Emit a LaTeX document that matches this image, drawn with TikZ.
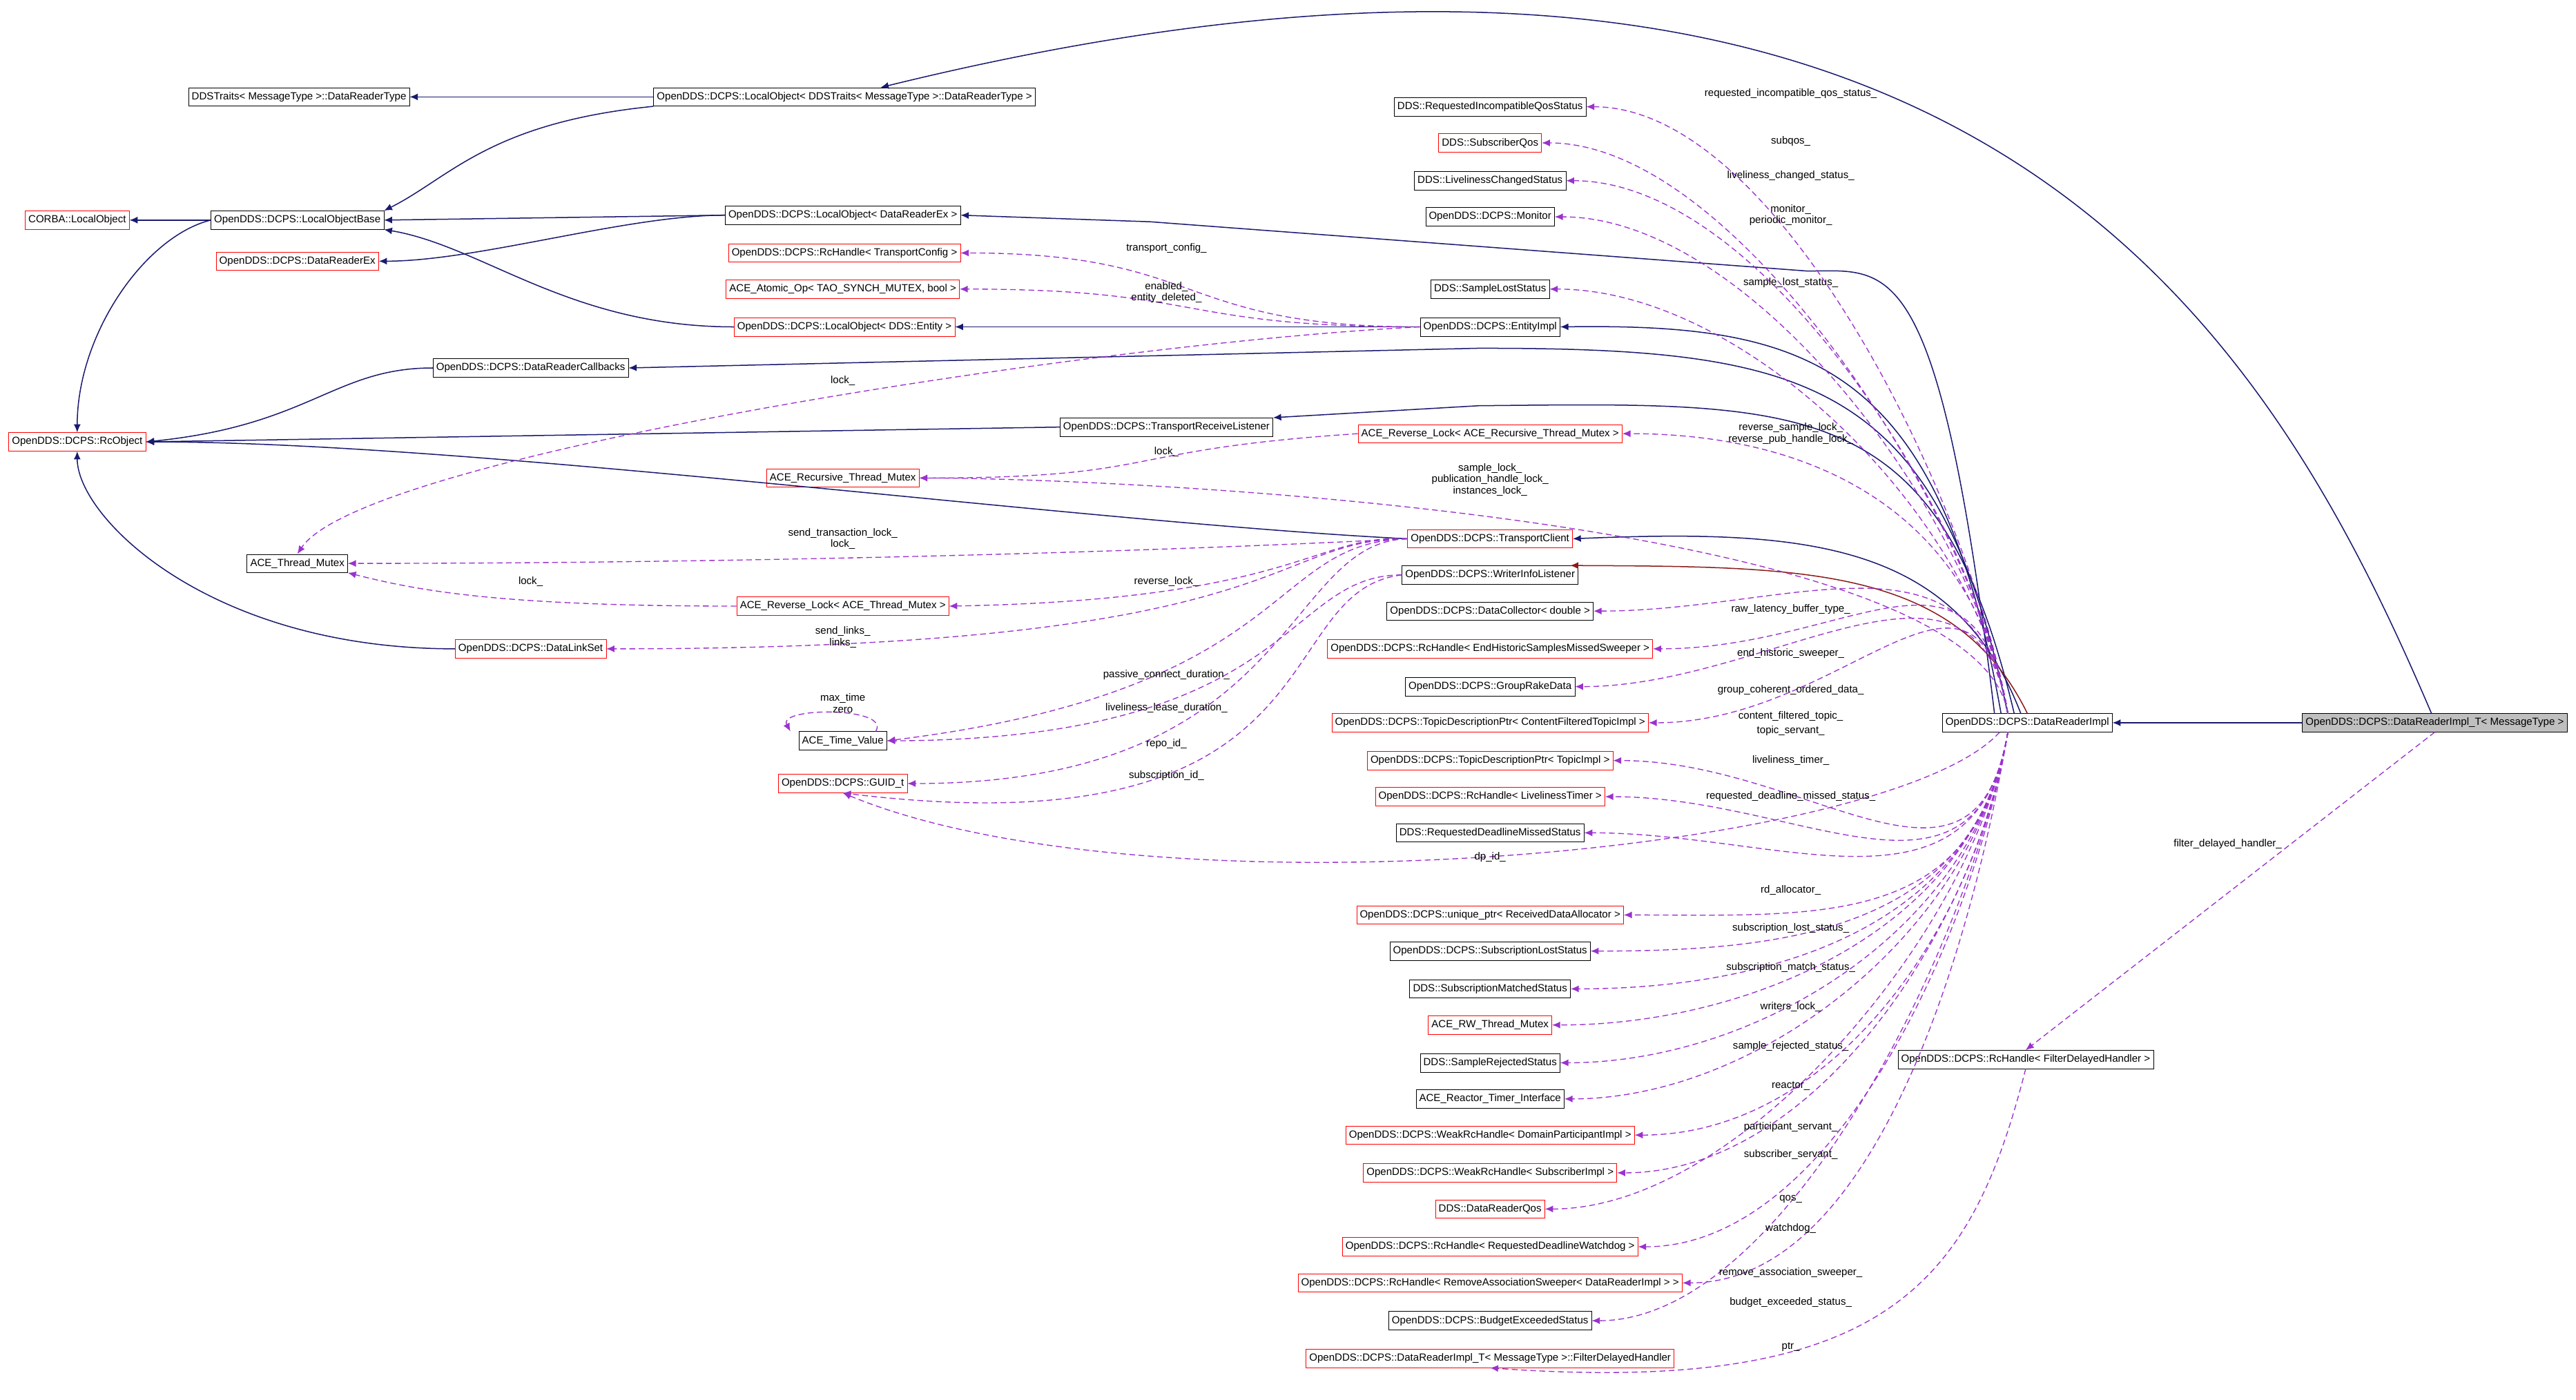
\documentclass[tikz,border=0pt]{standalone}
\usepackage{fontspec}
\setmainfont{Liberation Sans}
\usetikzlibrary{arrows.meta,calc}
\definecolor{navyc}{HTML}{191970}
\definecolor{depc}{HTML}{9A32CD}
\definecolor{privc}{HTML}{8B1A1A}
\tikzset{
 cls/.style={draw=black,fill=white,font=\fontsize{9}{9.5}\selectfont,inner sep=2.8pt,minimum height=0.56cm},
 rcls/.style={cls,draw=red},
 gcls/.style={cls,fill=black!25},
 inh/.style={draw=navyc,line width=0.9pt,-{Latex[length=7pt,width=6pt]}},
 priv/.style={inh,draw=privc},
 dep/.style={draw=depc,line width=0.8pt,dash pattern=on 5pt off 3pt,-{Latex[length=7pt,width=6pt]}},
 lab/.style={font=\fontsize{9}{10}\selectfont,align=center,inner sep=0pt}
}
\begin{document}
\begin{tikzpicture}[x=0.05cm,y=-0.05cm]
\useasboundingbox (0,0) rectangle (1568,852);
% nodes
\node[gcls] (drt) at (1482,440) {OpenDDS::DCPS::DataReaderImpl\_T< MessageType >};
\node[cls] (dri) at (1234,440) {OpenDDS::DCPS::DataReaderImpl};
\node[cls] (fdh) at (1233,645) {OpenDDS::DCPS::RcHandle< FilterDelayedHandler >};
\node[cls] (lotr) at (514,59) {OpenDDS::DCPS::LocalObject< DDSTraits< MessageType >::DataReaderType >};
\node[cls] (tr) at (182,59) {DDSTraits< MessageType >::DataReaderType};
\node[cls] (lob) at (181,134) {OpenDDS::DCPS::LocalObjectBase};
\node[rcls] (clo) at (47,134) {CORBA::LocalObject};
\node[rcls] (dre) at (181,159) {OpenDDS::DCPS::DataReaderEx};
\node[rcls] (rco) at (47,269) {OpenDDS::DCPS::RcObject};
\node[cls] (lodre) at (513,131) {OpenDDS::DCPS::LocalObject< DataReaderEx >};
\node[rcls] (rtc) at (514,154) {OpenDDS::DCPS::RcHandle< TransportConfig >};
\node[rcls] (aao) at (513,176) {ACE\_Atomic\_Op< TAO\_SYNCH\_MUTEX, bool >};
\node[rcls] (loent) at (514,199) {OpenDDS::DCPS::LocalObject< DDS::Entity >};
\node[cls] (drc) at (323,224) {OpenDDS::DCPS::DataReaderCallbacks};
\node[cls] (ent) at (907,199) {OpenDDS::DCPS::EntityImpl};
\node[cls] (trl) at (710,260) {OpenDDS::DCPS::TransportReceiveListener};
\node[rcls] (arlr) at (907,264) {ACE\_Reverse\_Lock< ACE\_Recursive\_Thread\_Mutex >};
\node[rcls] (artm) at (513,291) {ACE\_Recursive\_Thread\_Mutex};
\node[cls] (atm) at (181,343) {ACE\_Thread\_Mutex};
\node[rcls] (tc) at (907,328) {OpenDDS::DCPS::TransportClient};
\node[cls] (wil) at (907,350) {OpenDDS::DCPS::WriterInfoListener};
\node[rcls] (arlt) at (513,369) {ACE\_Reverse\_Lock< ACE\_Thread\_Mutex >};
\node[rcls] (dls) at (323,395) {OpenDDS::DCPS::DataLinkSet};
\node[cls] (tv) at (513,451) {ACE\_Time\_Value};
\node[rcls] (guid) at (513,477) {OpenDDS::DCPS::GUID\_t};
\node[cls] (riq) at (907,65) {DDS::RequestedIncompatibleQosStatus};
\node[rcls] (sq) at (907,87) {DDS::SubscriberQos};
\node[cls] (lcs) at (907,110) {DDS::LivelinessChangedStatus};
\node[cls] (mon) at (907,132) {OpenDDS::DCPS::Monitor};
\node[cls] (sls) at (907,176) {DDS::SampleLostStatus};
\node[cls] (dc) at (907,372) {OpenDDS::DCPS::DataCollector< double >};
\node[rcls] (ehs) at (907,395) {OpenDDS::DCPS::RcHandle< EndHistoricSamplesMissedSweeper >};
\node[cls] (grd) at (907,418) {OpenDDS::DCPS::GroupRakeData};
\node[rcls] (tdc) at (907,440) {OpenDDS::DCPS::TopicDescriptionPtr< ContentFilteredTopicImpl >};
\node[rcls] (tdt) at (907,463) {OpenDDS::DCPS::TopicDescriptionPtr< TopicImpl >};
\node[rcls] (lt) at (907,485) {OpenDDS::DCPS::RcHandle< LivelinessTimer >};
\node[cls] (rdm) at (907,507) {DDS::RequestedDeadlineMissedStatus};
\node[rcls] (up) at (907,557) {OpenDDS::DCPS::unique\_ptr< ReceivedDataAllocator >};
\node[cls] (sul) at (907,579) {OpenDDS::DCPS::SubscriptionLostStatus};
\node[cls] (sms) at (907,602) {DDS::SubscriptionMatchedStatus};
\node[rcls] (rw) at (907,624) {ACE\_RW\_Thread\_Mutex};
\node[cls] (srs) at (907,647) {DDS::SampleRejectedStatus};
\node[cls] (rti) at (907,669) {ACE\_Reactor\_Timer\_Interface};
\node[rcls] (wdp) at (907,691) {OpenDDS::DCPS::WeakRcHandle< DomainParticipantImpl >};
\node[rcls] (wsi) at (907,714) {OpenDDS::DCPS::WeakRcHandle< SubscriberImpl >};
\node[rcls] (qos) at (907,736) {DDS::DataReaderQos};
\node[rcls] (wd) at (907,759) {OpenDDS::DCPS::RcHandle< RequestedDeadlineWatchdog >};
\node[rcls] (ras) at (907,781) {OpenDDS::DCPS::RcHandle< RemoveAssociationSweeper< DataReaderImpl > >};
\node[cls] (bes) at (907,804) {OpenDDS::DCPS::BudgetExceededStatus};
\node[rcls] (fd) at (907,827) {OpenDDS::DCPS::DataReaderImpl\_T< MessageType >::FilterDelayedHandler};
% inheritance
\draw[inh] (drt) -- (dri);
\draw[inh] ($(drt.north)+(-2,0)$) .. controls (1380,200) and (1200,-110) .. ($(lotr.north)+(22,0)$);
\draw[inh] (lotr) -- (tr);
\draw[inh] (lotr.south west) .. controls +(-100,10) and +(40,-20) .. (lob.north east);
\draw[inh] (lob) -- (clo);
\draw[inh] (lob.west) .. controls +(-40,10) and +(0,-60) .. (rco.north);
\draw[inh] (lodre.west) -- (lob.east);
\draw[inh] (lodre.west) .. controls +(-60,0) and +(60,0) .. (dre.east);
\draw[inh] (loent.west) .. controls +(-100,0) and +(60,10) .. (lob.south east);
\draw[inh] ($(dri.north)+(-20,0)$) .. controls (1180,150) and (1150,165) .. (1100,165) -- (700,135) -- (lodre.east);
\draw[inh] (ent) -- (loent);
\draw[inh] ($(dri.north)+(-16,0)$) .. controls (1180,220) and (1100,197) .. (ent.east);
\draw[inh] ($(dri.north)+(-12,0)$) .. controls (1180,230) and (1100,212) .. (900,212) -- (drc.east);
\draw[inh] (drc.west) .. controls +(-60,0) and +(100,-10) .. (rco.east);
\draw[inh] ($(dri.north)+(-8,0)$) .. controls (1180,240) and (1100,245) .. (900,247) -- (trl.north east);
\draw[inh] (trl.west) -- (rco.east);
\draw[inh] ($(dri.north)+(-4,0)$) .. controls (1190,330) and (1100,322) .. (tc.east);
\draw[inh] (tc.west) .. controls +(-200,-10) and +(200,0) .. (rco.east);
\draw[priv] ($(dri.north)+(0,0)$) .. controls (1190,345) and (1100,345) .. ($(wil.north east)+(-5,0)$);
\draw[inh] (dls.west) .. controls +(-150,0) and +(0,40) .. (rco.south);
% dependencies from DataReaderImpl
\foreach \t in {riq,sq,lcs,mon,sls,arlr,artm,dc,ehs,grd,tdc}
  \draw[dep] ($(dri.north west)+(40,0)$) .. controls +(-20,-120) and +(120,0) .. (\t.east);
\foreach \t in {tdt,lt,rdm,up,sul,sms,rw,srs,rti,wdp,wsi,qos,wd,ras,bes}
  \draw[dep] ($(dri.south west)+(40,0)$) .. controls +(-20,120) and +(120,0) .. (\t.east);
\draw[dep] ($(dri.south west)+(35,0)$) .. controls (1150,520) and (700,560) .. (guid.south);
\draw[dep] (arlr.west) .. controls +(-150,10) and +(150,0) .. (artm.east);
\draw[dep] (ent.west) .. controls +(-150,0) and +(150,0) .. (rtc.east);
\draw[dep] (ent.west) .. controls +(-150,0) and +(150,0) .. (aao.east);
\draw[dep] (ent.west) .. controls +(-200,10) and +(40,-60) .. (atm.north);
\draw[dep] (tc.west) .. controls +(-200,10) and +(200,0) .. (atm.east);
\draw[dep] (arlt.west) .. controls +(-150,0) and +(40,10) .. (atm.south east);
\draw[dep] (tc.west) .. controls (800,325) and (790,365) .. (arlt.east);
\draw[dep] (tc.west) .. controls (770,328) and (790,395) .. (dls.east);
\draw[dep] (tc.west) .. controls (770,330) and (790,420) .. (tv.east);
\draw[dep] (wil.west) .. controls (780,350) and (790,450) .. (tv.east);
\draw[dep] (tc.west) .. controls (780,330) and (790,477) .. (guid.east);
\draw[dep] (wil.west) .. controls (770,360) and (820,520) .. (guid.south);
\draw[dep] ($(tv.north)+(20,0)$) .. controls ($(tv.north)+(30,-15)$) and ($(tv.north)+(-40,-15)$) .. ($(tv.north west)+(-5,0)$);
\draw[dep] (drt.south) -- (fdh.north);
\draw[dep] (fdh.south) .. controls (1200,780) and (1150,850) .. (fd.south);
% labels
\node[lab] (l1) at (1090,57) {requested\_incompatible\_qos\_status\_};
\node[lab] (l2) at (1090,86) {subqos\_};
\node[lab] (l3) at (1090,107) {liveliness\_changed\_status\_};
\node[lab] (l4) at (1090,131) {monitor\_\\periodic\_monitor\_};
\node[lab] (l5) at (1090,172) {sample\_lost\_status\_};
\node[lab] (l6) at (1090,264) {reverse\_sample\_lock\_\\reverse\_pub\_handle\_lock\_};
\node[lab] (l7) at (907,292) {sample\_lock\_\\publication\_handle\_lock\_\\instances\_lock\_};
\node[lab] (l8) at (710,275) {lock\_};
\node[lab] (l9) at (710,151) {transport\_config\_};
\node[lab] (l10) at (710,178) {enabled\_\\entity\_deleted\_};
\node[lab] (l11) at (513,232) {lock\_};
\node[lab] (l12) at (513,328) {send\_transaction\_lock\_\\lock\_};
\node[lab] (l13) at (323,354) {lock\_};
\node[lab] (l14) at (710,354) {reverse\_lock\_};
\node[lab] (l15) at (513,388) {send\_links\_\\links\_};
\node[lab] (l16) at (513,428) {max\_time\\zero};
\node[lab] (l17) at (710,411) {passive\_connect\_duration\_};
\node[lab] (l18) at (710,431) {liveliness\_lease\_duration\_};
\node[lab] (l19) at (710,453) {repo\_id\_};
\node[lab] (l20) at (710,472) {subscription\_id\_};
\node[lab] (l21) at (907,522) {dp\_id\_};
\node[lab] (l22) at (1090,371) {raw\_latency\_buffer\_type\_};
\node[lab] (l23) at (1090,398) {end\_historic\_sweeper\_};
\node[lab] (l24) at (1090,420) {group\_coherent\_ordered\_data\_};
\node[lab] (l25) at (1090,436) {content\_filtered\_topic\_};
\node[lab] (l26) at (1090,445) {topic\_servant\_};
\node[lab] (l27) at (1090,463) {liveliness\_timer\_};
\node[lab] (l28) at (1090,485) {requested\_deadline\_missed\_status\_};
\node[lab] (l29) at (1090,542) {rd\_allocator\_};
\node[lab] (l30) at (1090,565) {subscription\_lost\_status\_};
\node[lab] (l31) at (1090,589) {subscription\_match\_status\_};
\node[lab] (l32) at (1090,613) {writers\_lock\_};
\node[lab] (l33) at (1090,637) {sample\_rejected\_status\_};
\node[lab] (l34) at (1090,661) {reactor\_};
\node[lab] (l35) at (1090,686) {participant\_servant\_};
\node[lab] (l36) at (1090,703) {subscriber\_servant\_};
\node[lab] (l37) at (1090,730) {qos\_};
\node[lab] (l38) at (1090,748) {watchdog\_};
\node[lab] (l39) at (1090,775) {remove\_association\_sweeper\_};
\node[lab] (l40) at (1090,793) {budget\_exceeded\_status\_};
\node[lab] (l41) at (1090,820) {ptr\_};
\node[lab] (l42) at (1356,514) {filter\_delayed\_handler\_};
\end{tikzpicture}
\end{document}
